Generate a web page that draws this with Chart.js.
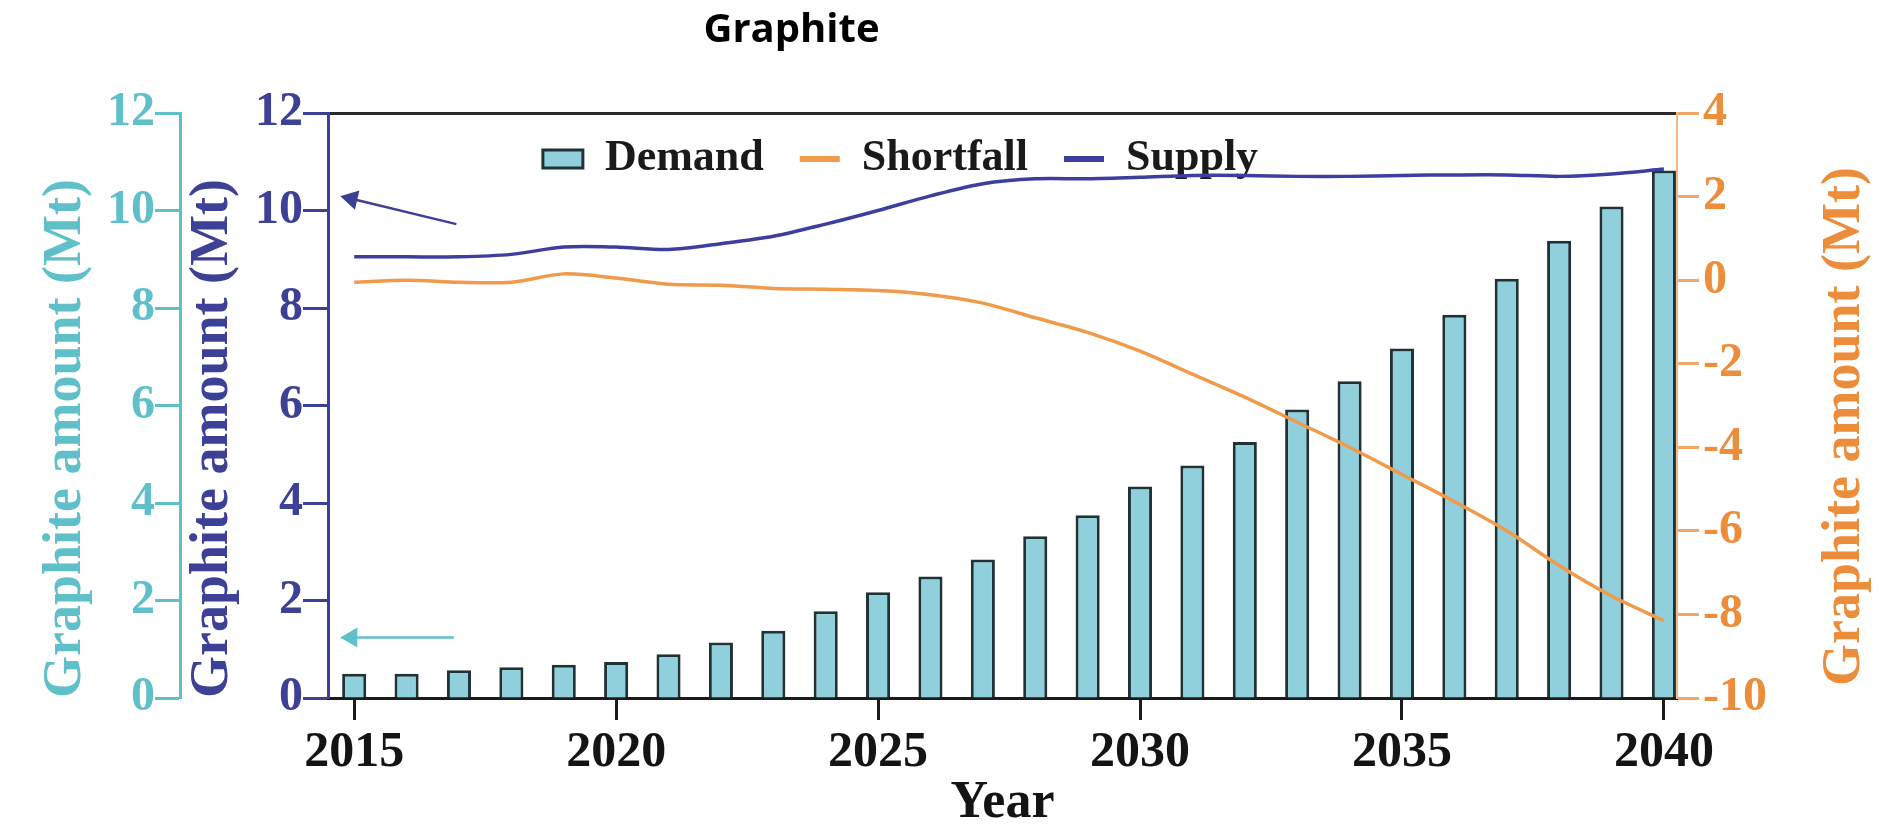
<!DOCTYPE html>
<html>
<head>
<meta charset="utf-8">
<title>Graphite</title>
<script src="https://cdn.jsdelivr.net/npm/chart.js@4.4.0/dist/chart.umd.min.js"></script>
<style>
  html, body { margin: 0; padding: 0; background: #fff; }
  #wrap { width: 1903px; height: 835px; position: relative; }
</style>
</head>
<body>
<div id="wrap"><canvas id="graphiteChart"></canvas></div>
<script>
// values (Mt)
const years = [2015, 2016, 2017, 2018, 2019, 2020, 2021, 2022, 2023, 2024, 2025, 2026, 2027,
               2028, 2029, 2030, 2031, 2032, 2033, 2034, 2035, 2036, 2037, 2038, 2039, 2040];
const demand = [0.5, 0.5, 0.57, 0.63, 0.68, 0.74, 0.9, 1.14, 1.38, 1.78, 2.17, 2.49, 2.84,
                3.32, 3.75, 4.34, 4.77, 5.25, 5.92, 6.5, 7.17, 7.86, 8.6, 9.38, 10.08, 10.82];
const supply = [9.05, 9.05, 9.05, 9.1, 9.25, 9.25, 9.2, 9.32, 9.47, 9.72, 10.0, 10.3, 10.55,
                10.65, 10.65, 10.68, 10.72, 10.72, 10.7, 10.7, 10.72, 10.73, 10.73, 10.7, 10.75, 10.85];
const shortfall = [-0.05, 0.0, -0.05, -0.05, 0.15, 0.05, -0.1, -0.12, -0.2, -0.22, -0.25, -0.35, -0.55,
                   -0.9, -1.25, -1.7, -2.25, -2.8, -3.4, -4.0, -4.65, -5.3, -6.0, -6.83, -7.56, -8.15];

const yearTicks = [2015, 2020, 2025, 2030, 2035, 2040];
const leftTicks = [0, 2, 4, 6, 8, 10, 12];
const rightTicks = [-10, -8, -6, -4, -2, 0, 2, 4];

// the two little arrows pointing at the left axes
const supplyArrow = [{x: 2016.95, y: 9.72}, {x: 2014.95, y: 10.24}];
const demandArrow = [{x: 2016.9, y: 1.24}, {x: 2014.95, y: 1.24}];

const NAVY = '#3d4196';
const CYAN = '#5fc0ca';
const ORANGE = '#ec8d3c';
const SERIF = "'Liberation Serif', 'DejaVu Serif', serif";

const setTicks = list => scale => { scale.ticks = list.map(v => ({value: v})); };

// moves the title / legend to where the figure has them, and writes the right axis title bottom-up
const figureLayout = {
  id: 'figureLayout',
  afterLayout(chart, args, opts) {
    const t = chart.titleBlock;
    const lg = chart.legend;
    t.left += opts.titleDx; t.right += opts.titleDx;
    lg.left += opts.legendDx; lg.right += opts.legendDx;
    lg.top += opts.legendDy; lg.bottom += opts.legendDy;
  },
  afterDraw(chart, args, opts) {
    const s = chart.scales.yR;
    const ctx = chart.ctx;
    ctx.save();
    ctx.translate(s.right - opts.rightTitleInset, s.bottom - opts.rightTitleLift);
    ctx.rotate(-Math.PI / 2);
    ctx.font = 'bold ' + opts.rightTitleSize + 'px ' + SERIF;
    ctx.fillStyle = ORANGE;
    ctx.textAlign = 'left';
    ctx.textBaseline = 'middle';
    ctx.fillText(opts.rightTitle, 0, 0);
    ctx.restore();
  }
};

const serifBold = size => ({family: SERIF, weight: 'bold', size: size});

new Chart(document.getElementById('graphiteChart'), {
  type: 'bar',
  data: {
    labels: years,
    datasets: [
      {
        label: 'Demand',
        data: demand,
        yAxisID: 'y',
        backgroundColor: '#8fd0dc',
        borderColor: '#1f3236',
        borderWidth: 3,
        barPercentage: 0.46,
        categoryPercentage: 1.0,
        order: 5
      },
      {
        type: 'line',
        label: 'Shortfall',
        data: shortfall,
        yAxisID: 'yR',
        borderColor: '#f09a4c',
        backgroundColor: '#f09a4c',
        borderWidth: 3.5,
        pointRadius: 0,
        tension: 0.3,
        order: 1
      },
      {
        type: 'line',
        label: 'Supply',
        data: supply,
        yAxisID: 'y',
        borderColor: '#3c3f9e',
        backgroundColor: '#3c3f9e',
        borderWidth: 3.5,
        pointRadius: 0,
        tension: 0.3,
        order: 0
      },
      {
        type: 'line',
        label: '',
        data: supplyArrow,
        yAxisID: 'y',
        borderColor: NAVY,
        backgroundColor: NAVY,
        borderWidth: 2.5,
        pointStyle: 'triangle',
        pointRadius: c => c.dataIndex === 1 ? 9 : 0,
        pointRotation: -77,
        tension: 0,
        order: 0
      },
      {
        type: 'line',
        label: '',
        data: demandArrow,
        yAxisID: 'yC',
        borderColor: CYAN,
        backgroundColor: CYAN,
        borderWidth: 2.5,
        pointStyle: 'triangle',
        pointRadius: c => c.dataIndex === 1 ? 9 : 0,
        pointRotation: -90,
        tension: 0,
        order: 0
      }
    ]
  },
  options: {
    responsive: true,
    maintainAspectRatio: false,
    animation: false,
    events: [],
    layout: { padding: 0 },
    plugins: {
      title: {
        display: true,
        text: 'Graphite',
        color: '#000',
        font: {family: "'Open Sans', sans-serif", weight: 'bold', size: 40},
        padding: {top: 7, bottom: -32}
      },
      legend: {
        position: 'top',
        labels: {
          color: '#1a1a1a',
          font: serifBold(44),
          usePointStyle: true,
          pointStyleWidth: 40,
          boxWidth: 40,
          boxHeight: 18,
          padding: 36,
          filter: item => !!item.text,
          sort: (a, b) => a.datasetIndex - b.datasetIndex,
          generateLabels(chart) {
            const items = Chart.defaults.plugins.legend.labels.generateLabels(chart);
            items.forEach(it => {
              const ds = chart.data.datasets[it.datasetIndex];
              if (ds.type === 'line') {
                it.pointStyle = 'line';
                it.lineWidth = 6;
              } else {
                it.pointStyle = 'rect';
                it.lineWidth = 3;
              }
            });
            return items;
          }
        }
      },
      tooltip: { enabled: false },
      figureLayout: {
        titleDx: -160,
        legendDx: -51,
        legendDy: 78,
        rightTitle: 'Graphite amount (Mt)',
        rightTitleSize: 54,
        rightTitleInset: 58,
        rightTitleLift: 12
      }
    },
    scales: {
      x: {
        type: 'linear',
        position: 'bottom',
        min: 2014.5,
        max: 2040.25,
        offset: false,
        afterBuildTicks: setTicks(yearTicks),
        afterFit: s => { s.height = 137; },
        border: { color: '#1b1b1b', width: 3 },
        grid: { offset: false, drawOnChartArea: false, drawTicks: true, tickLength: 22, tickWidth: 3, tickColor: '#1b1b1b' },
        ticks: { color: '#141414', font: serifBold(50), padding: 3, maxRotation: 0, autoSkip: false,
                 callback: v => String(v) },
        title: { display: true, text: 'Year', color: '#141414', font: serifBold(52), padding: 0 }
      },
      xTop: {
        type: 'linear',
        position: 'top',
        min: 2014.5,
        max: 2040.25,
        offset: false,
        afterFit: s => { s.height = 0; },
        ticks: { display: false },
        grid: { display: false, drawTicks: false },
        border: { display: true, color: '#2b2b2b', width: 3 }
      },
      y: {
        position: 'left',
        weight: 0,
        min: 0,
        max: 12,
        afterBuildTicks: setTicks(leftTicks),
        afterFit: s => { s.width = 148; },
        border: { color: NAVY, width: 3 },
        grid: { drawOnChartArea: false, tickLength: 25, tickWidth: 3, tickColor: NAVY },
        ticks: { color: NAVY, font: serifBold(48), padding: 0, autoSkip: false, callback: v => String(v) },
        title: { display: true, text: 'Graphite amount (Mt)', align: 'start', color: NAVY,
                 font: serifBold(54), padding: 1 }
      },
      yC: {
        position: 'left',
        weight: 1,
        min: 0,
        max: 12,
        afterBuildTicks: setTicks(leftTicks),
        afterFit: s => { s.width = 180; },
        border: { color: CYAN, width: 3 },
        grid: { drawOnChartArea: false, tickLength: 25, tickWidth: 3, tickColor: CYAN },
        ticks: { color: CYAN, font: serifBold(48), padding: 0, autoSkip: false, callback: v => String(v) },
        title: { display: true, text: 'Graphite amount (Mt)', align: 'start', color: CYAN,
                 font: serifBold(54), padding: 34 }
      },
      yR: {
        position: 'right',
        min: -10,
        max: 4,
        afterBuildTicks: setTicks(rightTicks),
        afterFit: s => { s.width = 226; },
        border: { color: '#f3b887', width: 2 },
        grid: { drawOnChartArea: false, tickLength: 22, tickWidth: 3, tickColor: '#f0a868' },
        ticks: { color: ORANGE, font: serifBold(48), padding: 4, autoSkip: false, callback: v => String(v) },
        title: { display: false }
      }
    }
  },
  plugins: [figureLayout]
});
</script>
</body>
</html>
